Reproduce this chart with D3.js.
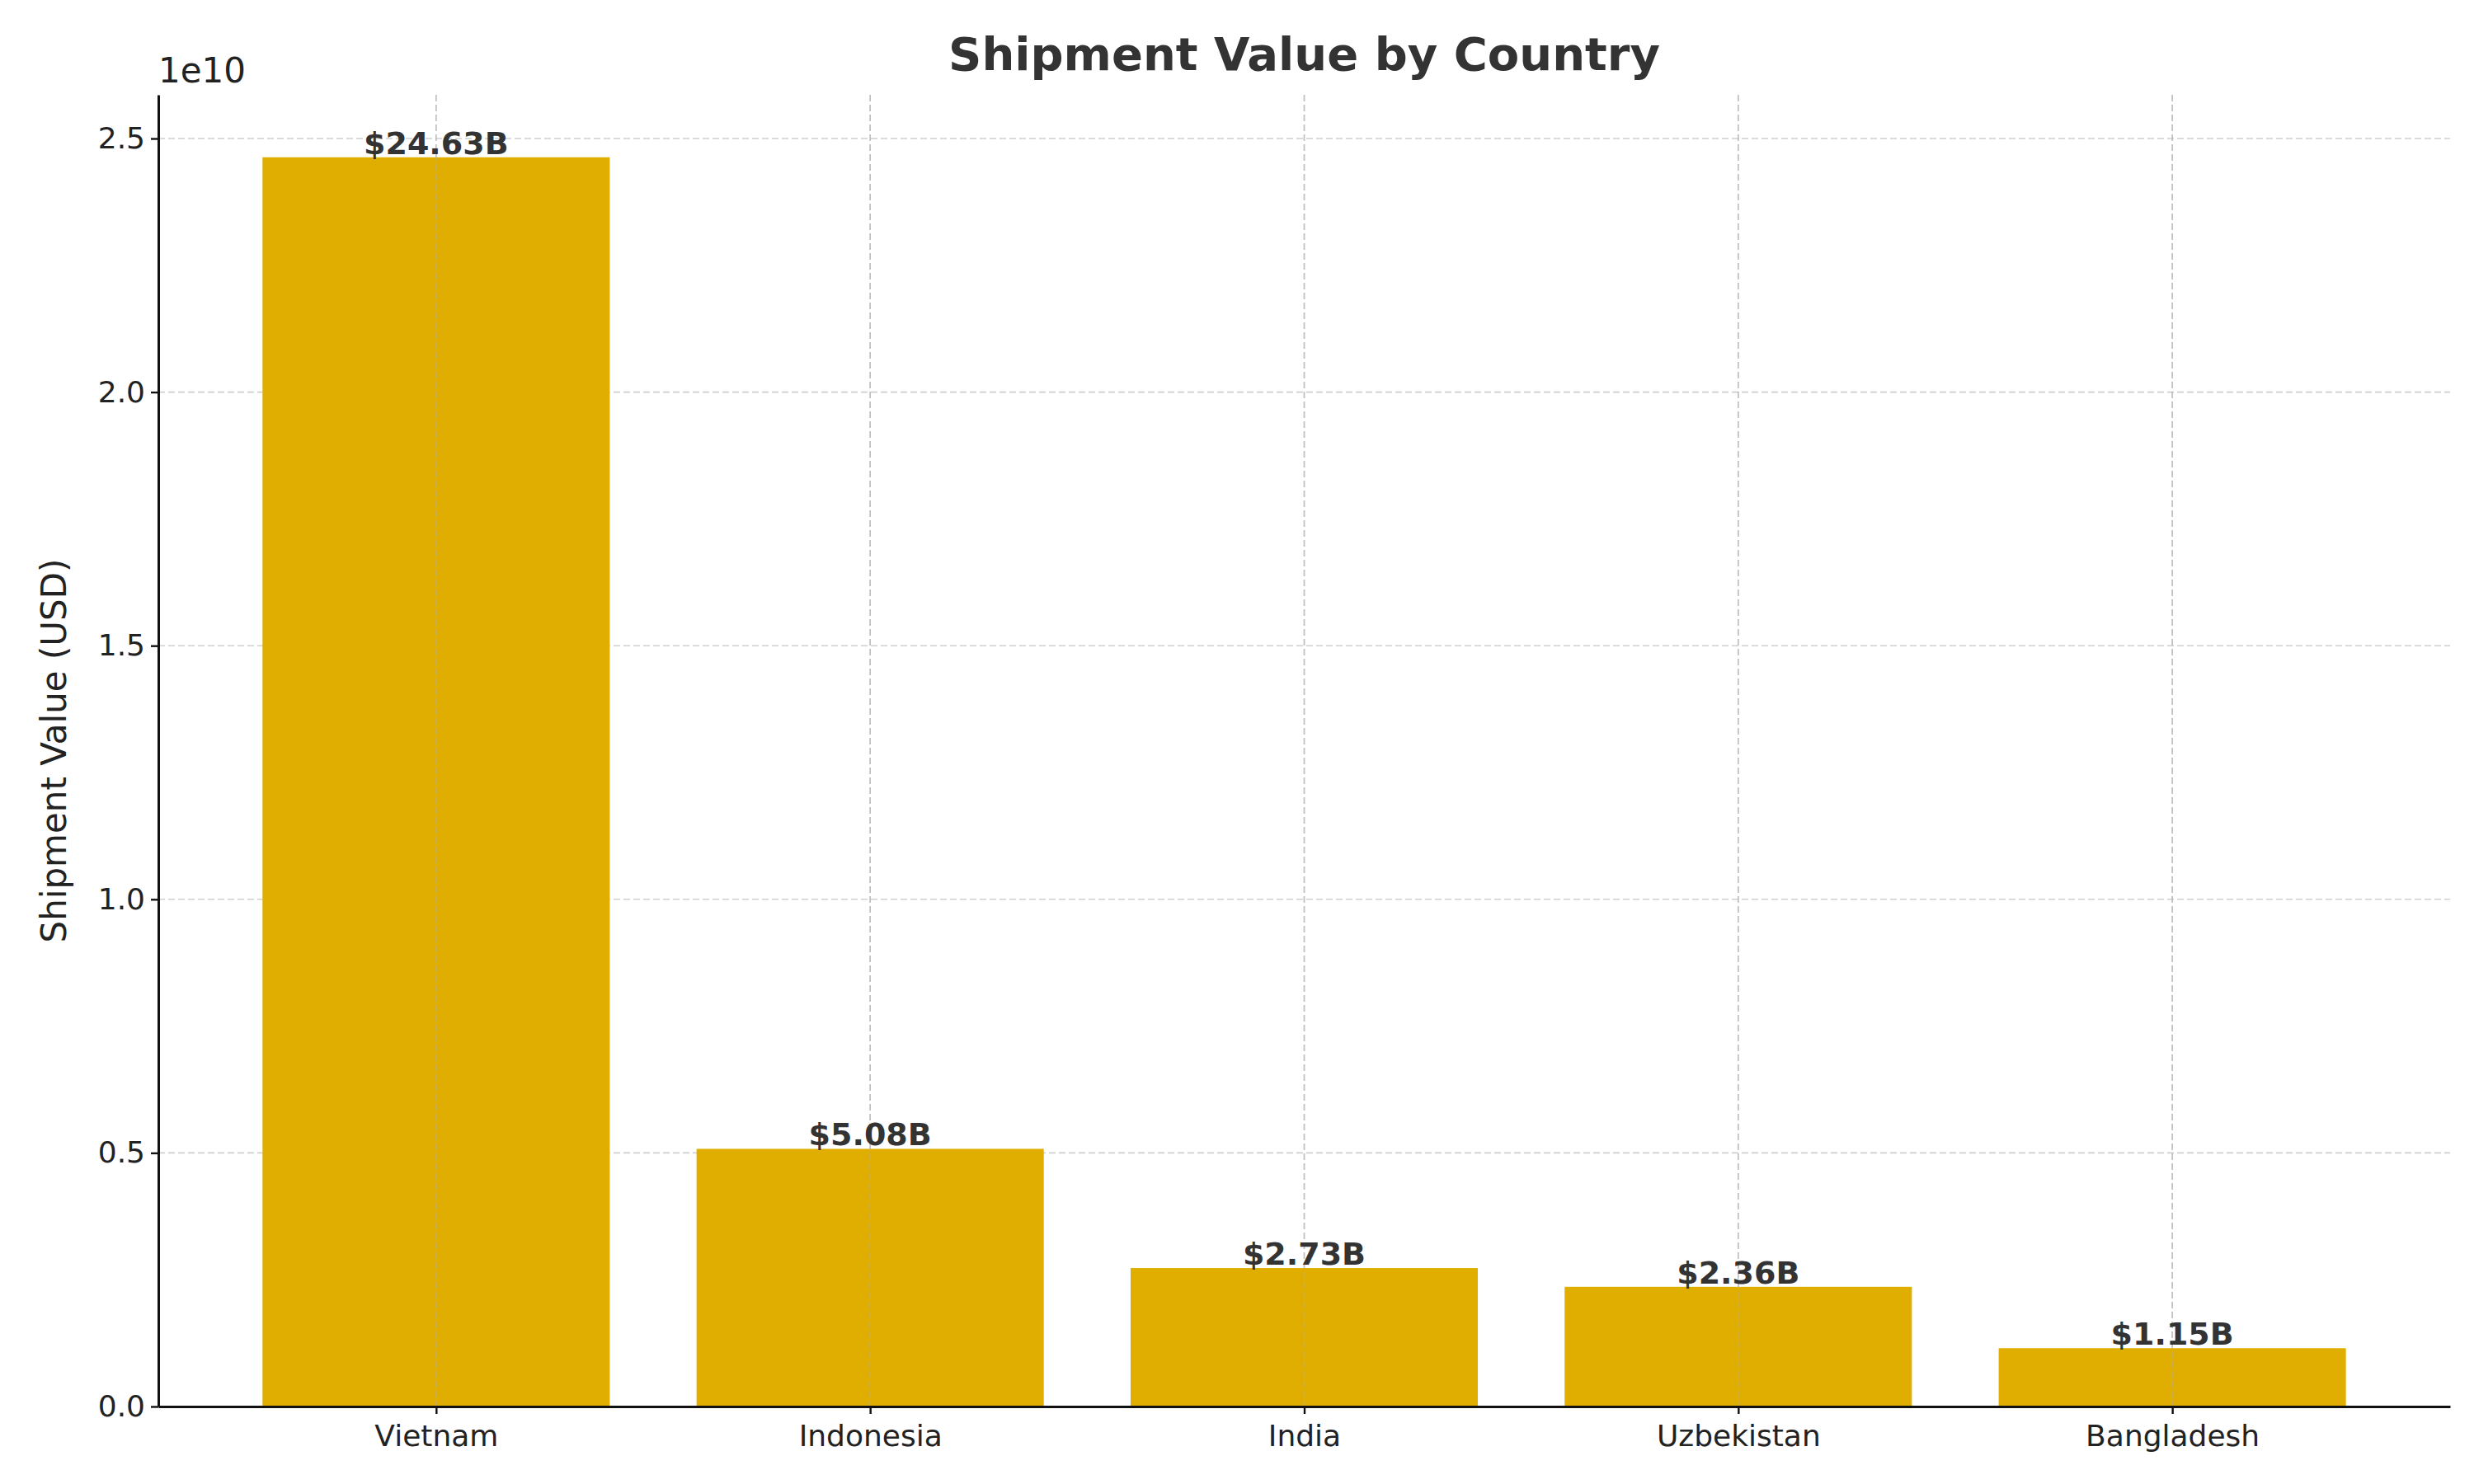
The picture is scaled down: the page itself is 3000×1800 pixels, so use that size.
<!DOCTYPE html>
<html><head><meta charset="utf-8">
<script src="https://cdn.jsdelivr.net/npm/d3@7"></script>
<style>body{margin:0;background:#fff}text{font-family:"DejaVu Sans",sans-serif}</style>
</head><body><svg width="3000" height="1800"></svg>
<script>
const countries = ["Vietnam", "Indonesia", "India", "Uzbekistan", "Bangladesh"];
const values = [24.63e9, 5.08e9, 2.73e9, 2.36e9, 1.15e9];
const yTicks = [0, 0.5e10, 1e10, 1.5e10, 2e10, 2.5e10];

const svg = d3.select("svg");
const m = {left: 192, right: 2971, top: 115, bottom: 1706};

const x = d3.scaleLinear([-0.64, countries.length - 1 + 0.64], [m.left, m.right]);
const y = d3.scaleLinear([0, d3.max(values) * 1.05], [m.bottom, m.top]);
const bw = x(0.8) - x(0);

// grid
const grid = svg.append("g").attr("stroke", "#b0b0b0").attr("stroke-opacity", 0.6)
  .attr("stroke-dasharray", "8,4").attr("stroke-width", 1.6);
grid.selectAll(".gy").data(yTicks).join("line")
  .attr("x1", m.left).attr("x2", m.right).attr("y1", d => y(d)).attr("y2", d => y(d));
grid.selectAll(".gx").data(countries).join("line")
  .attr("x1", (d, i) => x(i)).attr("x2", (d, i) => x(i)).attr("y1", m.top).attr("y2", m.bottom);

svg.append("g").selectAll("rect").data(values).join("rect")
  .attr("x", (d, i) => x(i) - bw / 2).attr("width", bw)
  .attr("y", d => y(d)).attr("height", d => y(0) - y(d))
  .attr("fill", "#e0ae00");

// redraw vertical grid over bars (matplotlib draws grid above)
svg.append("g").attr("stroke", "#b0b0b0").attr("stroke-opacity", 0.5)
  .attr("stroke-dasharray", "8,4").attr("stroke-width", 1.6)
  .selectAll("line").data(countries).join("line")
  .attr("x1", (d, i) => x(i)).attr("x2", (d, i) => x(i)).attr("y1", m.top).attr("y2", m.bottom);

svg.append("g").selectAll("text").data(values).join("text")
  .attr("x", (d, i) => x(i)).attr("y", d => y(d) - 4)
  .attr("text-anchor", "middle").attr("font-size", 38).attr("font-weight", "bold").attr("fill", "#333")
  .text(d => "$" + (d / 1e9).toFixed(2) + "B");

const yAxis = svg.append("g").attr("transform", `translate(${m.left},0)`)
  .call(d3.axisLeft(y).tickValues(yTicks).tickFormat(d => (d / 1e10).toFixed(1)).tickSize(9).tickSizeOuter(0));
const xAxis = svg.append("g").attr("transform", `translate(0,${m.bottom})`)
  .call(d3.axisBottom(x).tickValues(d3.range(countries.length)).tickFormat(i => countries[i]).tickSize(9).tickSizeOuter(0));
[yAxis, xAxis].forEach(a => {
  a.select(".domain").attr("stroke", "#111").attr("stroke-width", 3);
  a.selectAll(".tick line").attr("stroke", "#111").attr("stroke-width", 2.4);
  a.selectAll(".tick text").attr("font-size", 36).attr("fill", "#222").attr("font-family", "DejaVu Sans");
});
yAxis.selectAll(".tick text").attr("dx", -4);
xAxis.selectAll(".tick text").attr("dy", "1.0em");

svg.append("text").attr("x", m.left).attr("y", 100).attr("font-size", 42).attr("fill", "#222").text("1e10");
svg.append("text").attr("transform", `translate(80,${(m.top + m.bottom) / 2}) rotate(-90)`)
  .attr("text-anchor", "middle").attr("font-size", 42).attr("fill", "#222").text("Shipment Value (USD)");
svg.append("text").attr("x", (m.left + m.right) / 2).attr("y", 85).attr("text-anchor", "middle")
  .attr("font-size", 56).attr("font-weight", "bold").attr("fill", "#333").text("Shipment Value by Country");
</script></body></html>
